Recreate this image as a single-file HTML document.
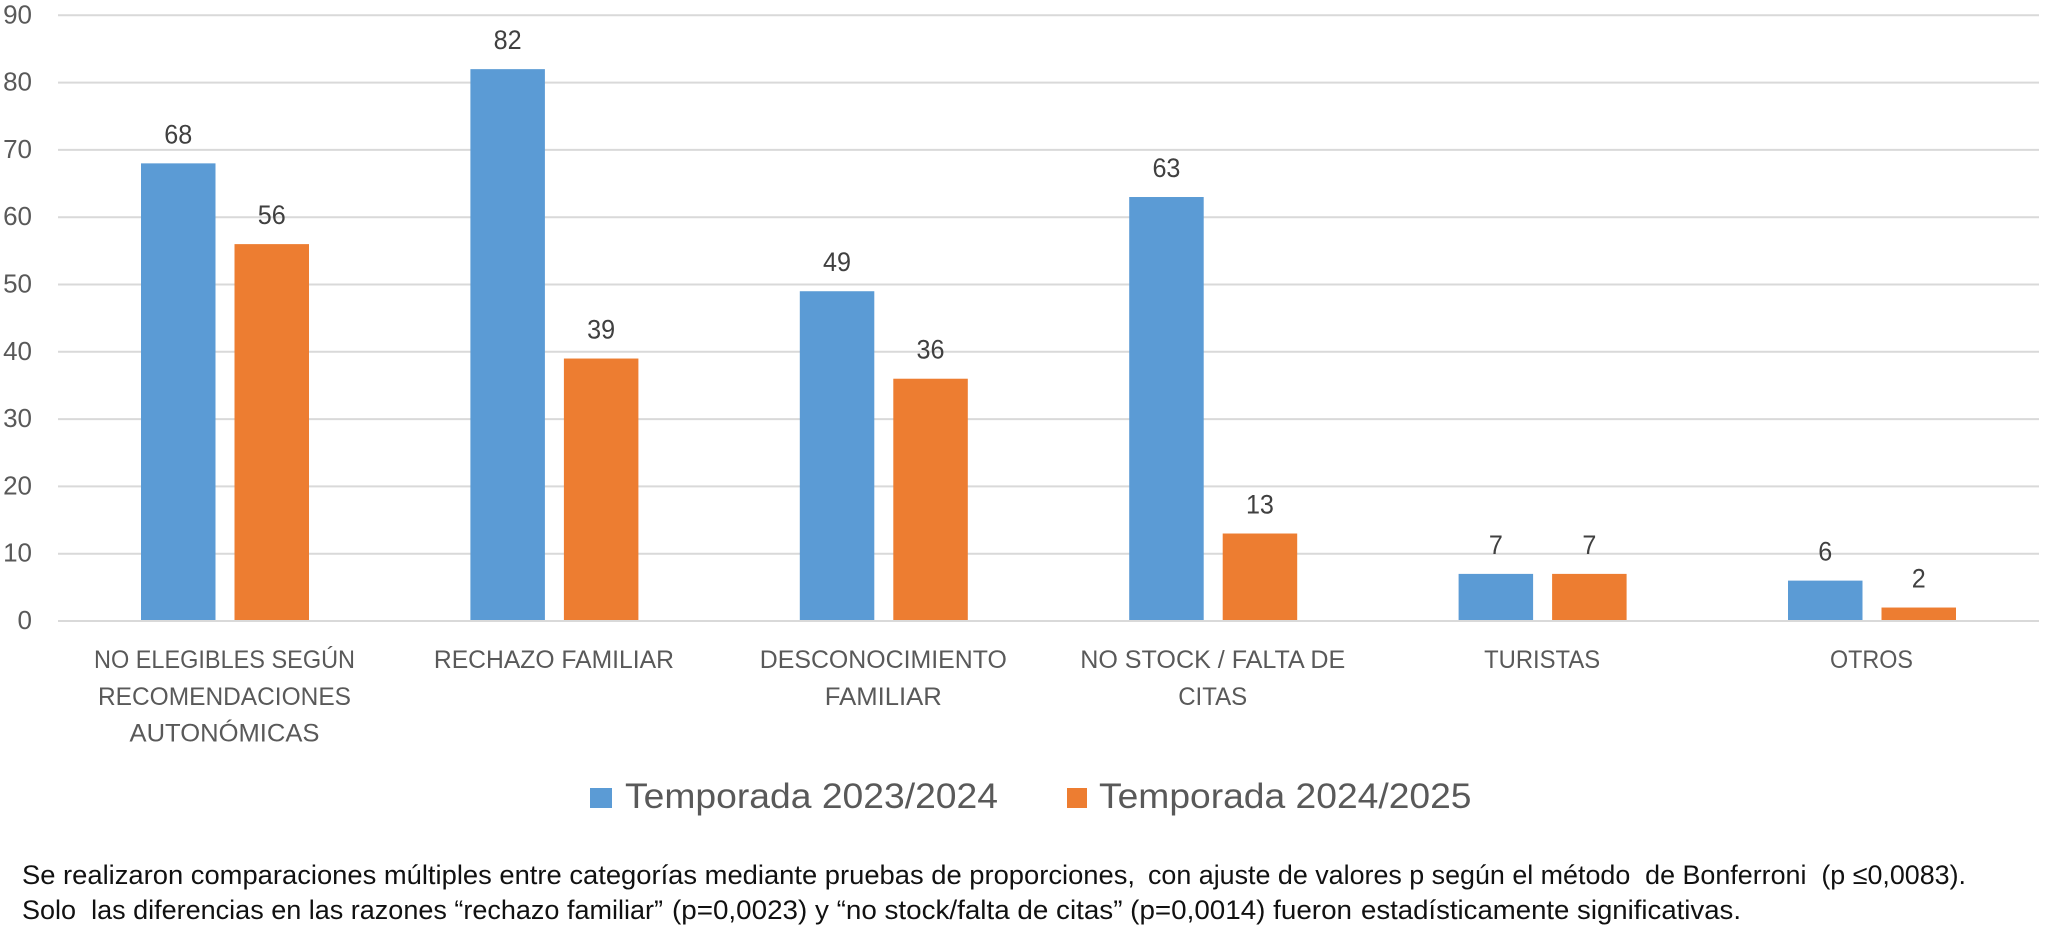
<!DOCTYPE html>
<html lang="es">
<head>
<meta charset="utf-8">
<title>Razones de no vacunación por temporada</title>
<style>
  html, body { margin: 0; padding: 0; background: #fff; }
  body { width: 2050px; height: 935px; overflow: hidden; }
  svg { display: block; }
  text { font-family: "Liberation Sans", sans-serif; white-space: pre; }
</style>
</head>
<body>
<svg id="chart" xmlns="http://www.w3.org/2000/svg" width="2050" height="935" viewBox="0 0 2050 935">
  <rect x="0" y="0" width="2050" height="935" fill="#ffffff"/>
  <g id="grid"></g>
  <g id="yticks"></g>
  <g id="bars"></g>
  <g id="values"></g>
  <g id="xlabels"></g>
  <g>
    <g>
      <rect x="590" y="788" width="22" height="20" fill="#5B9BD5"/>
      <text x="625" y="808" font-size="35" fill="#595959" textLength="373" lengthAdjust="spacingAndGlyphs">Temporada 2023/2024</text>
    </g>
    <g>
      <rect x="1067" y="788" width="20" height="20" fill="#ED7D31"/>
      <text x="1099" y="808" font-size="35" fill="#595959" textLength="372.5" lengthAdjust="spacingAndGlyphs">Temporada 2024/2025</text>
    </g>
  </g>
  <g font-size="27" fill="#111111">
    <text x="22" y="884" textLength="1113" lengthAdjust="spacingAndGlyphs">Se realizaron comparaciones múltiples entre categorías mediante pruebas de proporciones,</text>
    <text x="1148" y="884" textLength="818" lengthAdjust="spacingAndGlyphs">con ajuste de valores p según el método  de Bonferroni  (p ≤0,0083).</text>
    <text x="22" y="919" textLength="641" lengthAdjust="spacingAndGlyphs">Solo  las diferencias en las razones “rechazo familiar”</text>
    <text x="672" y="919" textLength="680" lengthAdjust="spacingAndGlyphs">(p=0,0023) y “no stock/falta de citas” (p=0,0014) fueron</text>
    <text x="1361" y="919" textLength="380" lengthAdjust="spacingAndGlyphs">estadísticamente significativas.</text>
  </g>
</svg>
<script>
const categories = [
  ["NO ELEGIBLES SEGÚN", "RECOMENDACIONES", "AUTONÓMICAS"],
  ["RECHAZO FAMILIAR"],
  ["DESCONOCIMIENTO", "FAMILIAR"],
  ["NO STOCK / FALTA DE", "CITAS"],
  ["TURISTAS"],
  ["OTROS"]
];
const season2023 = [68, 82, 49, 63, 7, 6];
const season2024 = [56, 39, 36, 13, 7, 2];
const yTicks = [0, 10, 20, 30, 40, 50, 60, 70, 80, 90];

const NS = "http://www.w3.org/2000/svg";
const plot = { left: 58, right: 2039, zeroY: 621, pxPerUnit: 6.73, first: 225, step: 329.4 };
const barWidth = 74.5;
const barGap = 19;
const valueDigitWidth = 14;
const labelFit = {
  "NO ELEGIBLES SEGÚN": 261, "RECOMENDACIONES": 253, "AUTONÓMICAS": 190,
  "RECHAZO FAMILIAR": 240, "DESCONOCIMIENTO": 247, "FAMILIAR": 117,
  "NO STOCK / FALTA DE": 265, "CITAS": 69, "TURISTAS": 116, "OTROS": 83
};

function yScale(v) { return plot.zeroY - v * plot.pxPerUnit; }
function xCenter(i) { return plot.first + i * plot.step; }
function svgEl(tag, parentId, props, text) {
  const el = document.createElementNS(NS, tag);
  for (const k in props) el.setAttribute(k, props[k]);
  if (text !== undefined) el.textContent = text;
  document.getElementById(parentId).appendChild(el);
  return el;
}

yTicks.forEach(function (t) {
  const line = svgEl("line", "grid", { x1: plot.left, x2: plot.right, y1: yScale(t), y2: yScale(t), stroke: "#d9d9d9", "stroke-width": 2 });
  
  
  const label = svgEl("text", "yticks", { x: 32, y: yScale(t) + 8, "text-anchor": "end", "font-size": 26, fill: "#595959" }, String(t));
  
  
});

function drawSeries(values, colour, offset) {
  values.forEach(function (v, i) {
    const cx = xCenter(i) + offset;
    const bar = svgEl("rect", "bars", { x: cx - barWidth / 2, y: yScale(v), width: barWidth, height: plot.zeroY - yScale(v) - 1, fill: colour });
    
    
    const str = String(v);
    const lab = svgEl("text", "values", { x: cx, y: yScale(v) - 20, "text-anchor": "middle", "font-size": 27, fill: "#404040", textLength: str.length * valueDigitWidth, lengthAdjust: "spacingAndGlyphs" }, str);
    
    
  });
}
drawSeries(season2023, "#5B9BD5", -(barWidth + barGap) / 2);
drawSeries(season2024, "#ED7D31", (barWidth + barGap) / 2);

categories.forEach(function (lines, i) {
  lines.forEach(function (line, j) {
    const t = svgEl("text", "xlabels", { x: xCenter(i) - 0.5, y: 668 + j * 36.8, "text-anchor": "middle", "font-size": 25, fill: "#595959", textLength: labelFit[line], lengthAdjust: "spacingAndGlyphs" }, line);
    
    
  });
});
</script>
</body>
</html>
